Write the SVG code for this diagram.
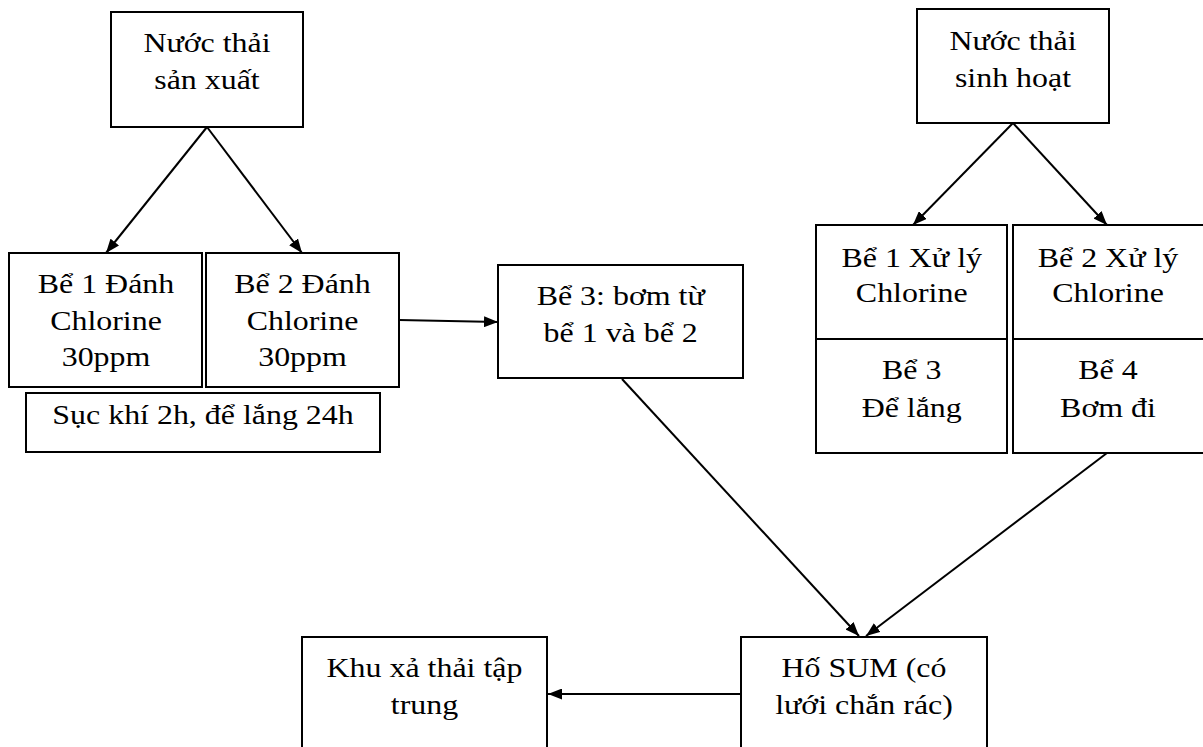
<svg xmlns="http://www.w3.org/2000/svg" width="1203" height="747" viewBox="0 0 1203 747">
<style>
.box{fill:#fff;stroke:#000;stroke-width:2}
.t{font-family:"Liberation Serif","Times New Roman",serif;font-size:28px;fill:#000;text-anchor:middle}
.c{stroke:#000;stroke-width:2;fill:none;marker-end:url(#ah)}
</style>
<defs>
<marker id="ah" markerUnits="userSpaceOnUse" markerWidth="14" markerHeight="11" refX="14" refY="5.5" orient="auto">
<path d="M0,0 L14,5.5 L0,11 z" fill="#000"/>
</marker>
</defs>
<rect width="1203" height="747" fill="#fff"/>
<g id="connectors">
<line class="c" x1="207" y1="127" x2="106" y2="253"/>
<line class="c" x1="207" y1="127" x2="302" y2="253"/>
<line class="c" x1="1013" y1="123" x2="913" y2="225"/>
<line class="c" x1="1013" y1="123" x2="1107" y2="225"/>
<line class="c" x1="399" y1="320" x2="498" y2="322"/>
<line class="c" x1="622" y1="379" x2="859" y2="636"/>
<line class="c" x1="1107" y1="453" x2="866" y2="636"/>
<line class="c" x1="741" y1="694" x2="548" y2="694"/>
</g>
<g id="n_sanxuat">
<rect class="box" x="111" y="12" width="192" height="115"/>
<g transform="translate(207 0) scale(1.14 1)"><text class="t" x="0" y="52">Nước thải</text><text class="t" x="0" y="89">sản xuất</text></g>
</g>
<g id="n_be1">
<rect class="box" x="9" y="253" width="193" height="134"/>
<g transform="translate(106 0) scale(1.14 1)"><text class="t" x="0" y="293">Bể 1 Đánh</text><text class="t" x="0" y="330">Chlorine</text><text class="t" x="0" y="366">30ppm</text></g>
</g>
<g id="n_be2">
<rect class="box" x="206" y="253" width="193" height="134"/>
<g transform="translate(302.5 0) scale(1.14 1)"><text class="t" x="0" y="293">Bể 2 Đánh</text><text class="t" x="0" y="330">Chlorine</text><text class="t" x="0" y="366">30ppm</text></g>
</g>
<g id="n_suckhi">
<rect class="box" x="26" y="393" width="354" height="59"/>
<g transform="translate(203 0) scale(1.14 1)"><text class="t" x="0" y="424">Sục khí 2h, để lắng 24h</text></g>
</g>
<g id="n_be3">
<rect class="box" x="498" y="265" width="245" height="113"/>
<g transform="translate(620.7 0) scale(1.14 1)"><text class="t" x="0" y="305">Bể 3: bơm từ</text><text class="t" x="0" y="342">bể 1 và bể 2</text></g>
</g>
<g id="n_sinhhoat">
<rect class="box" x="917" y="9" width="192" height="114"/>
<g transform="translate(1013 0) scale(1.14 1)"><text class="t" x="0" y="50">Nước thải</text><text class="t" x="0" y="87">sinh hoạt</text></g>
</g>
<g id="n_xl1">
<rect class="box" x="816" y="225" width="191" height="114"/>
<g transform="translate(911.7 0) scale(1.14 1)"><text class="t" x="0" y="267">Bể 1 Xử lý</text><text class="t" x="0" y="302">Chlorine</text></g>
</g>
<g id="n_xl2">
<rect class="box" x="1013" y="225" width="192" height="114"/>
<g transform="translate(1108 0) scale(1.14 1)"><text class="t" x="0" y="267">Bể 2 Xử lý</text><text class="t" x="0" y="302">Chlorine</text></g>
</g>
<g id="n_be3r">
<rect class="box" x="816" y="339" width="191" height="114"/>
<g transform="translate(911.7 0) scale(1.14 1)"><text class="t" x="0" y="379">Bể 3</text><text class="t" x="0" y="417">Để lắng</text></g>
</g>
<g id="n_be4">
<rect class="box" x="1013" y="339" width="192" height="114"/>
<g transform="translate(1108 0) scale(1.14 1)"><text class="t" x="0" y="379">Bể 4</text><text class="t" x="0" y="417">Bơm đi</text></g>
</g>
<g id="n_khu">
<rect class="box" x="302" y="637" width="245" height="120"/>
<g transform="translate(424.5 0) scale(1.14 1)"><text class="t" x="0" y="677">Khu xả thải tập</text><text class="t" x="0" y="714">trung</text></g>
</g>
<g id="n_sum">
<rect class="box" x="741" y="637" width="246" height="120"/>
<g transform="translate(864 0) scale(1.14 1)"><text class="t" x="0" y="677">Hố SUM (có</text><text class="t" x="0" y="714">lưới chắn rác)</text></g>
</g>
</svg>
